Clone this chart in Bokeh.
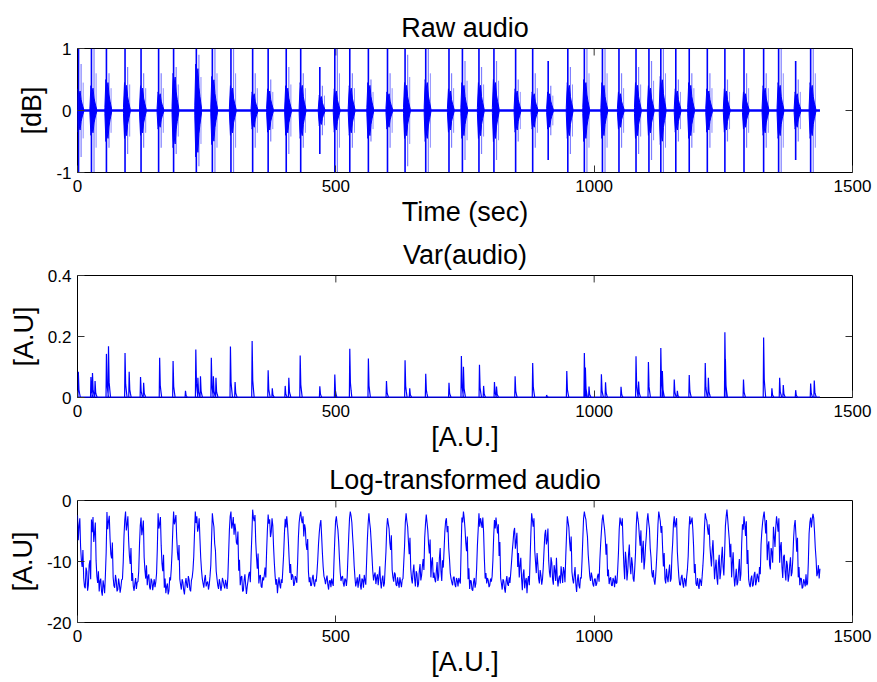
import numpy as np
from bokeh.plotting import figure
from bokeh.layouts import column
from bokeh.models import Range1d, FixedTicker
from bokeh.embed import file_html
from bokeh.resources import INLINE

# ---------------- data ----------------
t_end = 1437

# raw audio bursts: time, main spike extent, burst core amplitude, secondary spike extent
raw_t = [2, 27, 56, 92, 123, 157, 186, 230, 261, 297, 339, 369, 404, 432, 469, 498, 527, 563,
         600, 634, 674, 719, 745, 777, 806, 848, 881, 911, 949, 981, 1016, 1048, 1081, 1106,
         1129, 1158, 1184, 1219, 1253, 1290, 1328, 1357, 1390, 1419]
raw_spike = [1.0, 1.0, 1.0, 1.0, 1.0, 1.0, 1.0, 1.0, 1.0, 1.0, 1.0, 1.0, 1.0, 1.0, 0.7, 1.0, 1.0, 1.0,
             1.0, 1.0, 1.0, 1.0, 1.0, 1.0, 1.0, 1.0, 1.0, 0.8, 1.0, 1.0, 1.0, 1.0, 1.0, 1.0,
             1.0, 1.0, 1.0, 1.0, 1.0, 1.0, 1.0, 1.0, 0.8, 1.0]
raw_core = [0.35, 0.4, 0.5, 0.45, 0.4, 0.3, 0.6, 0.75, 0.55, 0.4, 0.3, 0.35, 0.4, 0.45, 0.25, 0.35,
            0.4, 0.45, 0.3, 0.45, 0.5, 0.35, 0.45, 0.45, 0.5, 0.35, 0.3, 0.3, 0.45, 0.5, 0.45, 0.3,
            0.45, 0.4, 0.55, 0.35, 0.45, 0.35, 0.35, 0.3, 0.4, 0.45, 0.3, 0.45]
raw_spike2 = [0.75, 1.0, 0.6, 0.7, 0.6, 0.6, 0.7, 0.9, 1.0, 1.0, 0.6, 0.5, 0.7, 0.6, 0.4, 1.0, 0.6,
              0.5, 0.6, 0.9, 1.0, 0.6, 0.8, 0.7, 0.8, 0.5, 0.6, 0.4, 0.7, 1.0, 1.0, 0.6, 0.7, 0.8,
              1.0, 0.5, 0.6, 0.6, 0.5, 0.6, 0.6, 1.0, 0.5, 1.0]
raw_noise = 0.02

# variance peaks: time, height
var_t = [1.6, 26, 29, 34, 56, 60, 92, 100, 122, 128, 159, 185, 209, 229, 233, 238, 259, 263, 268,
         296, 305, 338, 369, 377, 402, 409, 431, 469, 498, 527, 563, 598, 634, 643, 674,
         719, 743, 747, 778, 786, 807, 811, 847, 881, 908, 947, 981, 983, 990, 1014, 1022, 1052,
         1081, 1086, 1105, 1129, 1132, 1155, 1161, 1184, 1215, 1221, 1253, 1254, 1289, 1328,
         1344, 1359, 1366, 1390, 1419, 1426]
var_h = [0.084, 0.067, 0.080, 0.054, 0.143, 0.168, 0.146, 0.084, 0.067, 0.048, 0.130, 0.120, 0.022,
         0.157, 0.065, 0.070, 0.130, 0.070, 0.065, 0.167, 0.051, 0.185, 0.089, 0.030, 0.038, 0.065,
         0.138, 0.037, 0.075, 0.160, 0.128, 0.054, 0.122, 0.030, 0.078,
         0.048, 0.136, 0.101, 0.107, 0.038, 0.051, 0.036, 0.070, 0.113, 0.008, 0.087, 0.146, 0.098,
         0.036, 0.076, 0.050, 0.035, 0.135, 0.052, 0.116, 0.162, 0.087, 0.059, 0.022, 0.074, 0.113,
         0.065, 0.214, 0.126, 0.059, 0.197, 0.030, 0.065, 0.041, 0.024, 0.046, 0.056]

# log-transformed audio: samples on a 3 s grid (log_vals) and the in-between samples (log_mid)
log_step = 1.5
log_vals = [
    -2.4, -4.1, -7.6, -10.9, -12.7, -14.4, -11.6, -13.9, -9.8, -3.1,
    -2.7, -5.3, -9.9, -13.5, -14.9, -12.8, -15.6, -14.0, -12.2, -1.9,
    -3.4, -6.2, -9.5, -12.6, -14.3, -13.1, -14.6, -13.7, -14.2, -12.9,
    -5.8, -1.8, -3.9, -6.6, -10.4, -13.2, -14.1, -13.6, -14.5, -13.3,
    -7.2, -2.8, -4.6, -9.3, -12.8, -13.9, -12.1, -14.6, -13.2, -13.8,
    -14.2, -12.0, -2.1, -3.8, -7.4, -11.6, -14.3, -15.2, -13.6, -14.8,
    -13.1, -8.5, -1.8, -3.3, -6.1, -9.8, -12.9, -14.6, -13.4, -15.4,
    -12.7, -14.3, -13.0, -14.9, -12.6, -9.2, -1.8, -2.6, -4.4, -6.3,
    -11.4, -13.6, -12.9, -14.1, -13.3, -13.8, -10.6, -2.1, -4.3, -8.2,
    -12.8, -14.5, -13.6, -14.1, -13.2, -14.4, -13.7, -12.6, -4.8, -1.8,
    -3.9, -5.6, -4.8, -7.2, -11.5, -13.9, -12.4, -14.8, -12.1, -15.3,
    -13.2, -11.7, -9.1, -1.5, -3.4, -6.8, -11.2, -13.6, -12.2, -14.3,
    -13.1, -11.0, -8.4, -2.3, -3.1, -5.2, -4.1, -10.3, -13.8, -15.2,
    -12.6, -14.4, -13.5, -8.8, -3.0, -2.6, -6.4, -11.9, -13.0, -12.4,
    -13.6, -12.8, -10.2, -3.6, -1.8, -3.7, -5.9, -4.6, -8.1, -11.7,
    -12.6, -13.9, -12.2, -14.1, -13.3, -9.7, -5.2, -3.2, -8.6, -12.4,
    -13.7, -12.3, -14.6, -13.1, -12.8, -14.0, -6.3, -2.6, -4.8, -9.5,
    -13.2, -12.4, -14.1, -13.0, -12.5, -5.8, -1.8, -3.6, -7.9, -12.6,
    -13.4, -14.3, -12.1, -14.6, -13.0, -12.2, -13.8, -6.5, -2.1, -4.7,
    -9.2, -13.1, -11.8, -12.7, -13.9, -10.8, -14.4, -12.3, -13.6, -8.4,
    -2.9, -4.6, -8.1, -11.4, -13.3, -12.1, -14.0, -13.5, -12.6, -14.2,
    -12.8, -7.5, -2.1, -4.3, -8.8, -11.2, -13.6, -10.5, -14.1, -12.0,
    -13.7, -10.4, -12.3, -9.6, -6.1, -2.3, -4.9, -8.7, -12.6, -9.3,
    -11.8, -13.4, -10.1, -12.5, -7.8, -13.2, -11.0, -5.1, -2.9, -4.2,
    -9.6, -12.8, -13.9, -12.5, -14.2, -13.1, -12.7, -13.6, -2.8, -1.8,
    -4.6, -8.3, -12.9, -14.5, -13.2, -14.8, -12.7, -13.6, -7.4, -2.1,
    -2.9, -4.5, -5.2, -12.8, -13.6, -13.1, -13.9, -13.3, -9.8, -3.2,
    -2.8, -5.4, -9.1, -12.7, -14.6, -13.2, -15.1, -12.4, -14.0, -13.5,
    -10.2, -6.8, -4.5, -6.7, -10.9, -12.6, -9.4, -14.7, -11.3, -13.2,
    -15.2, -12.4, -9.6, -2.1, -4.3, -8.2, -11.9, -10.4, -13.6, -12.3,
    -12.9, -8.1, -4.8, -6.5, -9.9, -12.6, -10.2, -13.8, -11.5, -9.4,
    -14.1, -12.3, -10.8, -13.5, -11.6, -9.2, -2.6, -4.4, -8.3, -11.7,
    -13.6, -10.9, -15.0, -12.1, -14.4, -12.8, -6.3, -1.8, -3.1, -5.9,
    -10.6, -13.2, -12.5, -14.1, -12.8, -13.6, -12.0, -9.7, -5.1, -2.3,
    -4.6, -8.9, -12.4, -13.7, -12.6, -14.0, -13.1, -12.3, -13.5, -8.6,
    -2.8, -4.1, -7.3, -12.9, -9.8, -11.6, -7.2, -12.1, -10.4, -13.3,
    -8.7, -1.8, -3.9, -7.4, -10.2, -6.6, -9.8, -5.7, -2.1, -4.6,
    -9.3, -12.6, -13.1, -12.4, -7.5, -1.8, -3.4, -4.2, -10.8, -12.9,
    -11.2, -13.4, -10.5, -12.8, -6.9, -2.6, -3.8, -8.4, -12.6, -13.9,
    -12.2, -14.3, -13.0, -12.5, -9.1, -2.6, -3.4, -4.8, -11.9, -13.6,
    -12.7, -14.5, -13.2, -12.4, -8.3, -2.1, -3.3, -5.6, -7.4, -10.8,
    -6.5, -12.9, -9.7, -13.8, -8.9, -11.7, -7.6, -12.3, -4.2, -1.5,
    -4.8, -9.3, -12.6, -8.5, -14.1, -11.2, -13.4, -9.6, -12.1, -3.9,
    -2.6, -5.8, -10.4, -12.9, -14.2, -12.3, -13.8, -11.7, -13.3, -12.6,
    -10.9, -7.2, -3.6, -1.8, -5.4, -9.8, -6.7, -11.3, -8.5, -4.3,
    -7.6, -2.6, -5.1, -10.2, -6.8, -12.7, -8.9, -13.1, -10.6, -12.4,
    -9.3, -11.8, -6.2, -3.2, -8.4, -12.6, -13.9, -12.8, -14.2, -13.4,
    -12.1, -13.6, -5.4, -2.8, -3.1, -2.9, -7.8, -12.4, -10.6, -11.2,
]
log_mid = [
    -6.5, -2.9, -9.8, -8.1, -14.1, -11.0, -14.8, -10.6, -12.9, -5.2,
    -6.8, -3.6, -12.4, -11.6, -13.2, -14.9, -13.1, -15.2, -8.5, -4.7,
    -2.5, -8.8, -6.9, -14.0, -12.2, -14.9, -12.8, -15.1, -13.0, -10.1,
    -3.2, -4.9, -2.6, -9.1, -7.8, -11.9, -14.8, -12.7, -13.4, -11.6,
    -4.1, -5.7, -3.3, -11.4, -10.6, -12.5, -14.2, -12.8, -14.7, -12.9,
    -13.4, -7.9, -4.6, -2.7, -10.3, -8.9, -12.8, -14.1, -15.4, -12.6,
    -11.2, -4.7, -3.9, -2.4, -8.6, -7.3, -13.8, -12.9, -14.7, -13.6,
    -13.9, -12.4, -14.6, -13.1, -11.4, -5.3, -3.7, -5.1, -2.9, -9.4,
    -12.8, -14.3, -12.2, -13.5, -14.6, -12.4, -6.3, -3.4, -7.1, -11.6,
    -13.9, -12.9, -14.8, -12.7, -13.9, -13.0, -14.5, -8.7, -2.6, -4.6,
    -2.7, -3.8, -6.9, -5.1, -9.7, -12.6, -14.9, -13.1, -13.8, -14.1,
    -12.1, -13.4, -5.6, -2.8, -2.4, -9.3, -8.7, -12.4, -14.1, -12.6,
    -12.3, -12.6, -4.9, -3.8, -6.0, -2.9, -7.6, -12.4, -12.9, -13.7,
    -13.8, -12.9, -11.2, -5.4, -4.4, -4.1, -9.3, -10.4, -12.1, -14.0,
    -12.4, -13.5, -6.1, -2.5, -3.1, -2.6, -3.9, -7.2, -6.3, -13.4,
    -14.0, -12.7, -13.6, -12.9, -11.8, -7.1, -3.9, -5.8, -10.9, -12.9,
    -12.9, -13.8, -13.2, -14.2, -13.5, -9.8, -3.4, -3.9, -6.7, -11.8,
    -12.6, -13.6, -12.8, -14.0, -9.1, -2.9, -2.5, -5.9, -10.7, -14.1,
    -12.6, -13.2, -13.9, -12.8, -14.3, -13.1, -10.2, -3.8, -3.6, -6.9,
    -11.6, -12.2, -13.7, -12.1, -12.4, -13.3, -12.9, -14.1, -10.9, -4.6,
    -3.8, -6.9, -5.7, -12.6, -11.8, -13.8, -12.6, -14.3, -13.4, -13.0,
    -10.1, -3.6, -3.4, -6.7, -6.1, -12.8, -11.7, -12.9, -11.6, -14.2,
    -11.6, -13.1, -10.8, -11.4, -3.9, -3.6, -7.2, -6.4, -10.1, -12.7,
    -12.9, -11.6, -13.2, -9.4, -11.6, -9.8, -8.1, -3.4, -5.2, -7.8,
    -11.9, -13.4, -12.6, -13.8, -12.7, -14.1, -13.2, -7.9, -3.6, -2.9,
    -6.9, -5.9, -11.1, -13.1, -14.6, -13.4, -14.3, -11.2, -4.8, -4.3,
    -3.6, -2.8, -9.6, -11.9, -12.7, -14.2, -12.8, -12.4, -5.9, -4.6,
    -4.1, -3.9, -6.8, -13.6, -12.9, -14.4, -13.3, -13.7, -12.6, -11.9,
    -8.3, -5.1, -7.9, -5.3, -8.6, -10.7, -12.8, -12.1, -14.4, -12.7,
    -13.1, -13.9, -5.4, -3.2, -2.9, -10.1, -8.6, -12.8, -11.4, -13.8,
    -10.9, -5.6, -7.2, -4.6, -11.8, -9.3, -12.9, -10.6, -13.2, -12.6,
    -12.8, -13.6, -12.1, -10.9, -13.4, -5.7, -3.5, -6.8, -5.9, -12.9,
    -12.2, -13.7, -13.1, -13.9, -12.6, -9.9, -2.9, -2.6, -4.7, -8.9,
    -12.4, -11.8, -13.7, -12.9, -14.0, -12.4, -13.3, -7.2, -3.2, -3.6,
    -6.2, -7.1, -11.3, -12.8, -13.9, -12.7, -14.2, -13.6, -11.4, -4.7,
    -3.7, -2.9, -10.6, -8.4, -13.1, -8.9, -10.7, -9.3, -12.8, -11.2,
    -4.2, -2.9, -5.8, -4.9, -8.1, -11.3, -7.4, -3.3, -3.6, -7.8,
    -11.8, -11.4, -13.8, -10.2, -3.9, -2.6, -5.3, -7.9, -8.6, -13.6,
    -12.6, -11.7, -13.3, -9.1, -3.8, -4.4, -2.9, -10.7, -13.8, -12.6,
    -13.6, -12.7, -14.1, -11.3, -4.9, -3.9, -2.8, -7.6, -10.4, -14.0,
    -13.9, -12.8, -14.0, -10.6, -4.4, -2.9, -4.6, -3.9, -9.2, -8.1,
    -9.8, -11.1, -12.6, -10.2, -12.9, -9.4, -10.8, -8.6, -2.6, -3.1,
    -6.4, -7.1, -10.2, -12.3, -12.6, -13.9, -11.4, -13.2, -7.1, -4.8,
    -3.9, -3.4, -8.1, -13.8, -12.8, -14.1, -12.2, -13.9, -12.0, -13.4,
    -12.1, -5.1, -2.6, -3.4, -3.2, -7.4, -10.6, -7.8, -10.2, -5.9,
    -4.4, -3.8, -2.9, -7.6, -10.9, -9.2, -11.6, -9.9, -13.3, -10.6,
    -12.4, -9.6, -4.1, -5.6, -6.1, -10.9, -12.7, -14.4, -12.9, -14.1,
    -13.9, -10.2, -3.6, -4.4, -2.2, -5.1, -9.6, -11.9, -12.8,
]

x_ticks = [0, 500, 1000, 1500]
x_tick_labels = ["0", "500", "1000", "1500"]
p1_yticks, p1_ylabels = [-1, 0, 1], ["-1", "0", "1"]
p2_yticks, p2_ylabels = [0, 0.2, 0.4], ["0", "0.2", "0.4"]
p3_yticks, p3_ylabels = [-20, -10, 0], ["-20", "-10", "0"]

BLUE = "#0000FF"
FONT = "Liberation Sans"
TICK_LEN = 7  # px, inward
X_MAX = 1500
FRAME_W = 775


def make_fig(height, top, bottom, yr, yticks, ylabels, title, xlabel, ylabel, frame_h):
    p = figure(width=877, height=height, x_range=Range1d(0, X_MAX), y_range=Range1d(*yr),
               output_backend="svg", toolbar_location=None,
               min_border_left=77, min_border_right=25, min_border_top=top, min_border_bottom=bottom)
    p.title.text = title
    p.title.text_font = FONT
    p.title.text_font_size = "27px"
    p.title.text_font_style = "normal"
    p.title.text_color = "black"
    p.title.align = "center"
    p.title.standoff = 12
    p.grid.visible = False
    p.outline_line_color = "black"
    p.outline_line_width = 1
    p.outline_line_alpha = 1
    p.background_fill_color = "white"
    p.border_fill_color = "white"

    def style(ax, ticks, labels):
        ax.ticker = FixedTicker(ticks=ticks)
        ax.major_label_overrides = {t: l for t, l in zip(ticks, labels)}
        ax.major_tick_in = TICK_LEN
        ax.major_tick_out = 0
        ax.minor_tick_line_color = None
        ax.axis_line_color = None
        ax.major_tick_line_color = "#333333"
        ax.major_tick_line_width = 1
        ax.major_label_text_font = FONT
        ax.major_label_text_color = "black"
        ax.major_label_text_font_size = "17px"
        ax.axis_label_text_font = FONT
        ax.axis_label_text_font_size = "27px"
        ax.axis_label_text_font_style = "normal"
        ax.axis_label_text_color = "black"

    xa = p.xaxis[0]
    style(xa, x_ticks, x_tick_labels)
    xa.major_label_standoff = 7
    xa.axis_label = xlabel
    xa.axis_label_standoff = 2
    ya = p.yaxis[0]
    style(ya, yticks, ylabels)
    ya.major_label_standoff = 6
    ya.axis_label = ylabel
    ya.axis_label_standoff = 6

    # inward ticks on the top and right edges of the box (MATLAB "box on")
    y0, y1 = yr
    dy = TICK_LEN * (y1 - y0) / frame_h
    dx = TICK_LEN * X_MAX / FRAME_W
    inner_x = [t for t in x_ticks if 0 < t < X_MAX]
    inner_y = [t for t in yticks if y0 < t < y1]
    p.segment(x0=inner_x, y0=[y1] * len(inner_x), x1=inner_x, y1=[y1 - dy] * len(inner_x),
              line_color="#333333", line_width=1)
    p.segment(x0=[X_MAX] * len(inner_y), y0=inner_y, x1=[X_MAX - dx] * len(inner_y), y1=inner_y,
              line_color="#333333", line_width=1)
    return p


# ---- panel 1: raw audio ----
p1 = make_fig(231, 48, 59, (-1, 1), p1_yticks, p1_ylabels, "Raw audio", "Time (sec)", "[dB]", 124)
p1.varea(x=[0, t_end], y1=[-raw_noise, -raw_noise], y2=[raw_noise, raw_noise], fill_color=BLUE)
env_dt = [-3, -1, 1, 3, 5, 7, 10]
env_k = [0.1, 1.0, 0.7, 0.9, 0.5, 0.3, 0.05]
xs, ys = [], []
for t, c in zip(raw_t, raw_core):
    ex = [t + d for d in env_dt]
    ey = [c * k for k in env_k]
    xs.append(ex + ex[::-1])
    ys.append(ey + [-v for v in ey[::-1]])
p1.patches(xs, ys, fill_color=BLUE, line_color=BLUE, line_width=1)
p1.segment(x0=raw_t, y0=[-s for s in raw_spike], x1=raw_t, y1=raw_spike,
           line_color=BLUE, line_width=1.6)
t2 = [t + 5 for t in raw_t]
p1.segment(x0=t2, y0=[-s for s in raw_spike2], x1=t2, y1=raw_spike2,
           line_color=BLUE, line_width=1.2, line_alpha=0.5)
t3 = [t + 9 for t in raw_t]
p1.segment(x0=t3, y0=[-0.6 * s for s in raw_spike2], x1=t3, y1=[0.6 * s for s in raw_spike2],
           line_color=BLUE, line_width=1, line_alpha=0.45)

# ---- panel 2: variance ----
p2 = make_fig(225, 43, 59, (0, 0.4), p2_yticks, p2_ylabels, "Var(audio)", "[A.U.]", "[A.U]", 123)
p2.line([0, t_end], [0, 0], line_color=BLUE, line_width=2)
vx, vy = [], []
for t, h in zip(var_t, var_h):
    vx += [t - 0.8, t, t + 1.2, t + 2.5, t + 4.0]
    vy += [0, h, 0.3 * h, 0.15 * h, 0]
p2.line(vx, vy, line_color=BLUE, line_width=1.2)

# ---- panel 3: log-transformed ----
p3 = make_fig(226, 43, 60, (-20, 0), p3_yticks, p3_ylabels, "Log-transformed audio", "[A.U.]", "[A.U]", 123)
log_y = []
for i, v in enumerate(log_vals):
    log_y.append(v)
    if i < len(log_mid):
        log_y.append(log_mid[i])
log_t = [i * log_step for i in range(len(log_y))]
p3.line(log_t, log_y, line_color=BLUE, line_width=1.1)

layout = column(p1, p2, p3, spacing=0)
open("out.html", "w").write(file_html(layout, INLINE))
